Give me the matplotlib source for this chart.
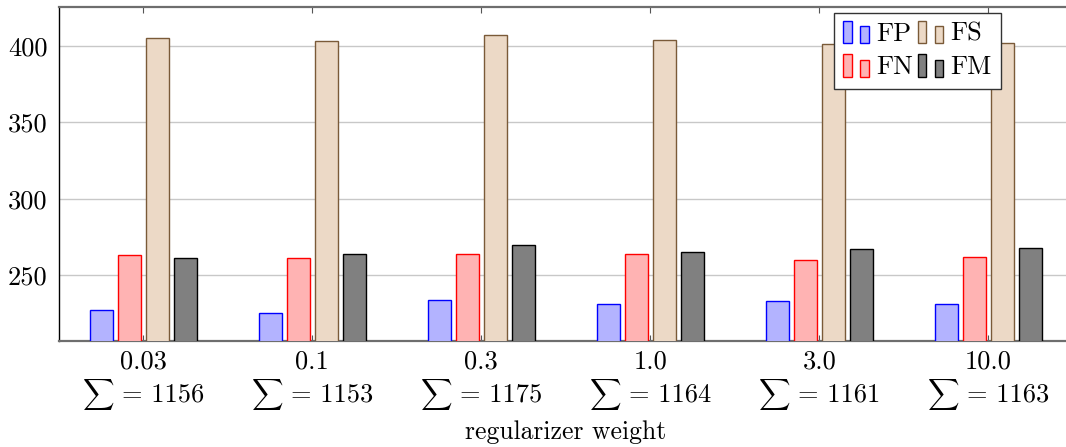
import matplotlib
matplotlib.use("Agg")
import matplotlib.pyplot as plt
import numpy as np
from matplotlib.patches import Rectangle
from matplotlib.legend_handler import HandlerBase

# ---- data ----
weights = ["0.03", "0.1", "0.3", "1.0", "3.0", "10.0"]
sums = [1156, 1153, 1175, 1164, 1161, 1163]
series_names = ["FP", "FN", "FS", "FM"]
fp = [227, 225, 234, 231, 233, 231]
fn = [263, 261, 264, 264, 260, 262]
fs = [405, 403, 407, 404, 401, 402]
fm = [261, 264, 270, 265, 267, 268]
yticks = [250, 300, 350, 400]

plt.rcParams["mathtext.fontset"] = "cm"
plt.rcParams["font.family"] = ["cmr10", "DejaVu Serif"]
plt.rcParams["axes.formatter.use_mathtext"] = True

DPI = 100
W, H = 1066, 447
fig = plt.figure(figsize=(W / DPI, H / DPI), dpi=DPI)
ax_left, ax_right, ax_top, ax_bottom = 58.8, 1072.8, 7.3, 341.3
ax = fig.add_axes([ax_left / W, 1 - ax_bottom / H, (ax_right - ax_left) / W, (ax_bottom - ax_top) / H])

styles = [
    dict(facecolor="#b3b3ff", edgecolor="#0000ff"),
    dict(facecolor="#ffb3b3", edgecolor="#ff0000"),
    dict(facecolor="#ecd9c6", edgecolor="#7a5a38"),
    dict(facecolor="#808080", edgecolor="#000000"),
]
x = np.arange(len(weights))
pitch = 0.166
bw = 0.138
handles = []
for i, (vals, st) in enumerate(zip([fp, fn, fs, fm], styles)):
    bc = ax.bar(x + (i - 1.5) * pitch, vals, width=bw, linewidth=1.0,
                zorder=3, label=series_names[i], **st)
    handles.append(bc.patches[0])

ax.set_xlim(-0.5, 5.5)
ax.set_ylim(206.8, 425.2)
ax.set_yticks(yticks)
ax.set_yticklabels([str(v) for v in yticks], fontsize=19)
ax.yaxis.grid(True, color="#c8c8c8", linewidth=1.0, zorder=0)
ax.set_axisbelow(True)

ax.set_xticks(x)
ax.set_xticklabels(weights, fontsize=19)
ax.tick_params(axis="x", direction="in", top=True, length=4, color="#555555", pad=6)
ax.tick_params(axis="y", length=0, pad=8)

for side in ["top", "bottom"]:
    ax.spines[side].set_color("#6e6e6e")
    ax.spines[side].set_linewidth(1.6)
ax.spines["left"].set_color("black")
ax.spines["left"].set_linewidth(1.0)
ax.spines["right"].set_visible(False)

# second line of each category label: "∑ = total"
renderer = fig.canvas.get_renderer()
base_y = -(402 - ax_bottom) * 72 / DPI   # baseline offset in points
gap = 7.5 * 72 / DPI
xt = ax.get_xaxis_transform()
for xi, s in zip(x, sums):
    t_sig = ax.annotate(r"$\sum$", xy=(xi, 0), xycoords=xt, xytext=(0, base_y),
                        textcoords="offset points", ha="left", va="baseline",
                        fontsize=15.8, annotation_clip=False)
    t_eq = ax.annotate(f"= {s}", xy=(xi, 0), xycoords=xt, xytext=(0, base_y),
                       textcoords="offset points", ha="left", va="baseline",
                       fontsize=19, annotation_clip=False)
    w1 = t_sig.get_window_extent(renderer).width * 72 / DPI
    w2 = t_eq.get_window_extent(renderer).width * 72 / DPI
    left = -(w1 + gap + w2) / 2
    t_sig.xyann = (left, base_y)
    t_eq.xyann = (left + w1 + gap, base_y)

ax.set_xlabel("regularizer weight", fontsize=18.5)
ax.xaxis.set_label_coords(0.5, (ax_bottom - 432) / (ax_bottom - ax_top))
ax.xaxis.label.set_verticalalignment("center")


class TwoBarHandler(HandlerBase):
    def create_artists(self, legend, orig_handle, xdescent, ydescent, width, height,
                       fontsize, trans):
        fc = orig_handle.get_facecolor()
        ec = orig_handle.get_edgecolor()
        w = width * 0.32
        y0 = -ydescent - 0.12 * height
        r1 = Rectangle((-xdescent, y0), w, height * 1.2, facecolor=fc, edgecolor=ec,
                       linewidth=1.0, transform=trans)
        r2 = Rectangle((-xdescent + width * 0.65, y0), w, height * 0.92, facecolor=fc,
                       edgecolor=ec, linewidth=1.0, transform=trans)
        return [r1, r2]


leg = ax.legend(handles, series_names, ncol=2, handler_map={Rectangle: TwoBarHandler()},
                loc="upper left", bbox_to_anchor=(834 / W, 1 - 12.7 / H),
                bbox_transform=fig.transFigure, fontsize=19, frameon=True, fancybox=False,
                framealpha=1, edgecolor="#333333", handlelength=1.0, handleheight=0.72,
                handletextpad=0.25, columnspacing=0.17, borderpad=0.35, labelspacing=0.38,
                borderaxespad=0)
leg.get_frame().set_linewidth(1.0)
leg.set_zorder(5)

fig.savefig("out.png", dpi=DPI)
